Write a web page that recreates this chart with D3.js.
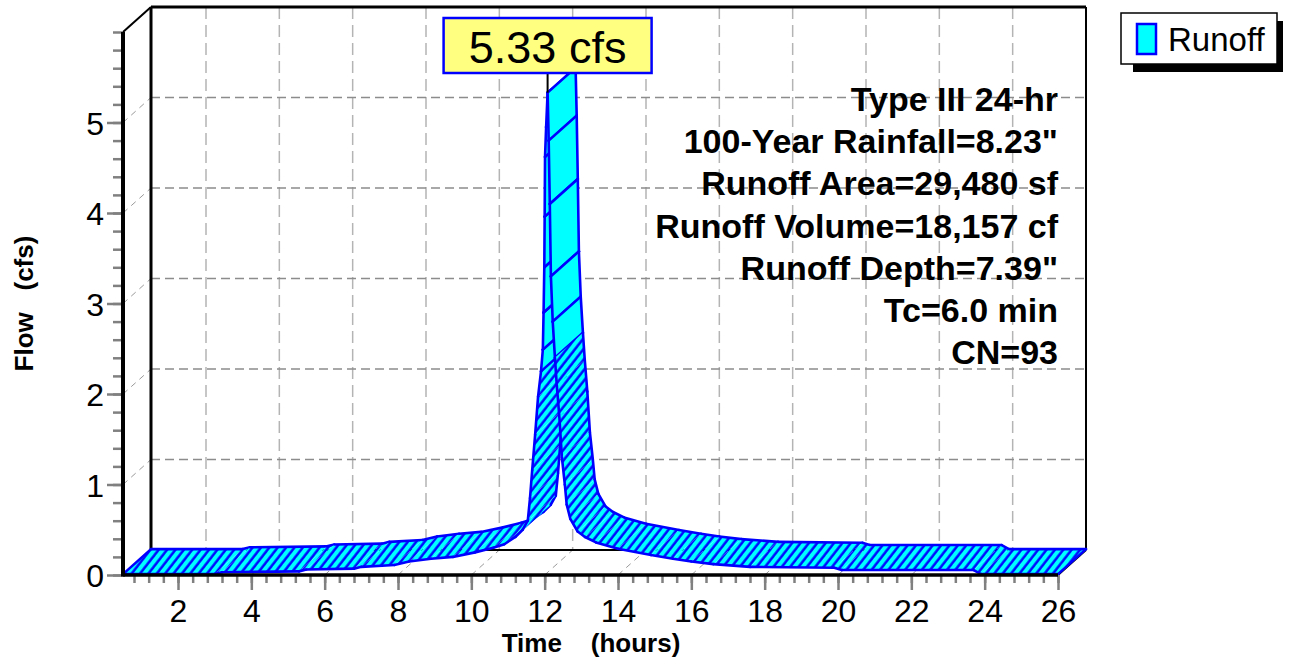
<!DOCTYPE html>
<html><head><meta charset="utf-8">
<script src="https://cdn.jsdelivr.net/npm/d3@7"></script>
<style>
html,body{margin:0;padding:0;background:#fff}
svg{display:block}
text{font-family:"Liberation Sans",Arial,sans-serif}
</style>
</head><body>
<svg id="c" width="1291" height="665"></svg>
<script>
// ---- data ----
const times = [0.5, 3.0, 3.2, 5.3, 5.5, 6.8, 7.0, 7.9, 8.3, 8.9, 9.5, 10.1, 10.6, 10.9, 11.2, 11.4, 11.54, 11.6, 11.66, 11.74, 11.82, 11.9, 11.95, 11.97, 11.99, 12.0, 12.01, 12.04, 12.08, 12.11, 12.14, 12.17, 12.22, 12.28, 12.33, 12.4, 12.47, 12.55, 12.6, 12.7, 12.9, 13.1, 13.4, 14.0, 14.9, 15.5, 16.0, 16.6, 17.6, 19.9, 20.1, 23.7, 23.9, 26.0];
const flows = [0.01, 0.01, 0.03, 0.04, 0.06, 0.07, 0.09, 0.11, 0.15, 0.18, 0.20, 0.25, 0.30, 0.34, 0.42, 0.50, 0.60, 0.85, 1.16, 1.55, 1.97, 2.25, 2.49, 2.90, 3.40, 3.96, 4.62, 4.95, 5.33, 4.80, 4.10, 3.30, 2.80, 2.40, 2.10, 1.75, 1.30, 1.00, 0.78, 0.62, 0.48, 0.42, 0.36, 0.29, 0.22, 0.18, 0.15, 0.12, 0.09, 0.08, 0.055, 0.055, 0.01, 0.01];
const xTickValues = [2, 4, 6, 8, 10, 12, 14, 16, 18, 20, 22, 24, 26];
const yTickValues = [0, 1, 2, 3, 4, 5];
const annotationLines = ["Type III 24-hr", "100-Year Rainfall=8.23\"", "Runoff Area=29,480 sf", "Runoff Volume=18,157 cf", "Runoff Depth=7.39\"", "Tc=6.0 min", "CN=93"];
const peakLabel = "5.33 cfs";
const seriesName = "Runoff";
const xTitle = "Time  (hours)";
const yTitle = "Flow  (cfs)";

// ---- layout ----
const svg = d3.select("#c");
const x = d3.scaleLinear().domain([0.5, 26]).range([123, 1058]);
const y = d3.scaleLinear().domain([0, 6]).range([575, 32]);
const DX = 28, DY = -25;
const BLUE = "#0000FF", CYAN = "#00FFFF";
const x0 = x.range()[0], x1 = x.range()[1];
const yb = y(0), yt = y(6);

const defs = svg.append("defs");
const pat = defs.append("pattern").attr("id", "hatch")
  .attr("patternUnits", "userSpaceOnUse").attr("width", 6.6).attr("height", 6.6)
  .attr("patternTransform", "rotate(38)");
pat.append("rect").attr("width", 6.6).attr("height", 6.6).attr("fill", CYAN);
pat.append("line").attr("x1", 1.5).attr("y1", -1).attr("x2", 1.5).attr("y2", 8)
  .attr("stroke", BLUE).attr("stroke-width", 2.4);

// ---- grid (back wall, side wall, floor) ----
const grid = svg.append("g");
const gridX = xTickValues;
const gridY = yTickValues.filter(v => v > 0);
grid.selectAll(".vg").data(gridX).join("line")
  .attr("x1", d => x(d) + DX).attr("x2", d => x(d) + DX)
  .attr("y1", yt + DY).attr("y2", yb + DY)
  .attr("stroke", "#b4b4b4").attr("stroke-width", 1.5).attr("stroke-dasharray", "12,6");
grid.selectAll(".hg").data(gridY).join("line")
  .attr("x1", x0 + DX).attr("x2", x1 + DX)
  .attr("y1", d => y(d) + DY).attr("y2", d => y(d) + DY)
  .attr("stroke", "#8c8c8c").attr("stroke-width", 1.5).attr("stroke-dasharray", "9,5");
grid.selectAll(".sg").data(gridY).join("line")
  .attr("x1", x0).attr("x2", x0 + DX)
  .attr("y1", d => y(d)).attr("y2", d => y(d) + DY)
  .attr("stroke", "#9a9a9a").attr("stroke-width", 1).attr("stroke-dasharray", "6,5");
grid.selectAll(".fg").data(gridX).join("line")
  .attr("x1", d => x(d)).attr("x2", d => x(d) + DX)
  .attr("y1", yb).attr("y2", yb + DY)
  .attr("stroke", "#9a9a9a").attr("stroke-width", 1).attr("stroke-dasharray", "6,5");

// back frame
const frame = svg.append("g").attr("stroke", "#000").attr("fill", "none");
frame.append("line").attr("x1", x0 + DX).attr("x2", x0 + DX).attr("y1", yt + DY).attr("y2", yb + DY).attr("stroke-width", 3);
frame.append("line").attr("x1", x0 + DX).attr("x2", x1 + DX).attr("y1", yt + DY).attr("y2", yt + DY).attr("stroke-width", 3);
frame.append("line").attr("x1", x1 + DX).attr("x2", x1 + DX).attr("y1", yt + DY).attr("y2", yb + DY).attr("stroke-width", 2);
frame.append("line").attr("x1", x0 + DX).attr("x2", x1 + DX).attr("y1", yb + DY).attr("y2", yb + DY).attr("stroke-width", 2);
frame.append("line").attr("x1", x0).attr("x2", x0 + DX).attr("y1", yt).attr("y2", yt + DY).attr("stroke-width", 2);
frame.append("line").attr("x1", x1).attr("x2", x1 + DX).attr("y1", yb).attr("y2", yb + DY).attr("stroke-width", 2);

// ---- 3D ribbon ----
const pts = times.map((t, i) => ({t, v: flows[i], fx: x(t), fy: y(flows[i]), bx: x(t) + DX, by: y(flows[i]) + DY}));
const rib = svg.append("g").attr("stroke-linejoin", "round").attr("stroke-linecap", "round");
for (let i = 0; i < pts.length - 1; i++) {
  const a = pts[i], b = pts[i + 1];
  const steep = Math.max(a.v, b.v) >= 2.45;
  const g = rib.append("g");
  g.append("path")
    .attr("d", `M${a.fx},${a.fy}L${b.fx},${b.fy}L${b.bx},${b.by}L${a.bx},${a.by}Z`)
    .attr("fill", steep ? CYAN : "url(#hatch)").attr("stroke", "none");
  const segs = [[a.fx, a.fy, b.fx, b.fy], [a.bx, a.by, b.bx, b.by]];
  if (steep || i === 0) segs.push([a.fx, a.fy, a.bx, a.by]);
  if (steep || i === pts.length - 2) segs.push([b.fx, b.fy, b.bx, b.by]);
  segs.forEach(s => g.append("line").attr("x1", s[0]).attr("y1", s[1]).attr("x2", s[2]).attr("y2", s[3])
    .attr("stroke", BLUE).attr("stroke-width", 2.6));
}

// ---- front axes ----
const TICK = "#808080";
const yMinor = d3.axisLeft(y).tickValues(d3.range(0, 6.001, 0.2)).tickSize(10).tickFormat("");
const gyMin = svg.append("g").attr("transform", `translate(${x0},0)`).call(yMinor);
const yMajor = d3.axisLeft(y).tickValues(yTickValues).tickSize(16).tickPadding(3).tickFormat(d3.format("d"));
const gyMaj = svg.append("g").attr("transform", `translate(${x0},0)`).call(yMajor);
const xMinor = d3.axisBottom(x).tickValues(d3.range(0.8, 26.001, 0.4)).tickSize(8).tickFormat("");
const gxMin = svg.append("g").attr("transform", `translate(0,${yb})`).call(xMinor);
const xMajor = d3.axisBottom(x).tickValues(xTickValues).tickSize(15).tickPadding(9).tickFormat(d3.format("d"));
const gxMaj = svg.append("g").attr("transform", `translate(0,${yb})`).call(xMajor);
[gyMin, gyMaj, gxMin, gxMaj].forEach(g => {
  g.select(".domain").remove();
  g.selectAll(".tick line").attr("stroke", TICK).attr("stroke-width", 2.5);
});
gyMaj.selectAll(".tick text").attr("font-size", 32).attr("fill", "#000").attr("dy", "0.36em").attr("x", -19);
gxMaj.selectAll(".tick text").attr("font-size", 32).attr("fill", "#000").attr("dy", "0.72em");

svg.append("line").attr("x1", x0).attr("x2", x0).attr("y1", yt).attr("y2", yb + 1.5).attr("stroke", "#000").attr("stroke-width", 4);
svg.append("line").attr("x1", x0).attr("x2", x1).attr("y1", yb).attr("y2", yb).attr("stroke", "#000").attr("stroke-width", 3.5);

// axis titles
svg.append("text").attr("x", 591).attr("y", 652).attr("text-anchor", "middle")
  .attr("font-size", 26).attr("font-weight", "bold").style("white-space", "pre").text(xTitle.replace("  ", "    "));
svg.append("text").attr("transform", `translate(33,${(yt + yb) / 2}) rotate(-90)`).attr("text-anchor", "middle")
  .attr("font-size", 26).attr("font-weight", "bold").style("white-space", "pre").text(yTitle.replace("  ", "   "));

// ---- annotation ----
const ann = svg.append("g");
annotationLines.forEach((s, i) => {
  ann.append("text").attr("x", x1).attr("y", 111 + i * 42.2).attr("text-anchor", "end")
    .attr("font-size", 34).attr("font-weight", "bold").attr("fill", "#000").text(s);
});

// ---- peak label ----
const peakIdx = d3.maxIndex(flows);
const px = x(times[peakIdx]), py = y(flows[peakIdx]);
svg.append("line").attr("x1", px).attr("x2", px).attr("y1", py).attr("y2", 72).attr("stroke", "#000").attr("stroke-width", 2);
svg.append("rect").attr("x", px - 104).attr("y", 18).attr("width", 208).attr("height", 55)
  .attr("fill", "#FFFF80").attr("stroke", BLUE).attr("stroke-width", 2.5);
svg.append("text").attr("x", px).attr("y", 63).attr("text-anchor", "middle").attr("font-size", 45).attr("fill", "#000").text(peakLabel);

// ---- legend ----
const lg = svg.append("g");
lg.append("rect").attr("x", 1133).attr("y", 21).attr("width", 150).attr("height", 51).attr("fill", "#000");
lg.append("rect").attr("x", 1121).attr("y", 13).attr("width", 156).attr("height", 51).attr("fill", "#fff").attr("stroke", "#000").attr("stroke-width", 1.5);
lg.append("rect").attr("x", 1137).attr("y", 24).attr("width", 19).attr("height", 30).attr("fill", CYAN).attr("stroke", BLUE).attr("stroke-width", 2.5);
lg.append("text").attr("x", 1168).attr("y", 51).attr("font-size", 33).attr("fill", "#000").text(seriesName);
</script>
</body></html>
